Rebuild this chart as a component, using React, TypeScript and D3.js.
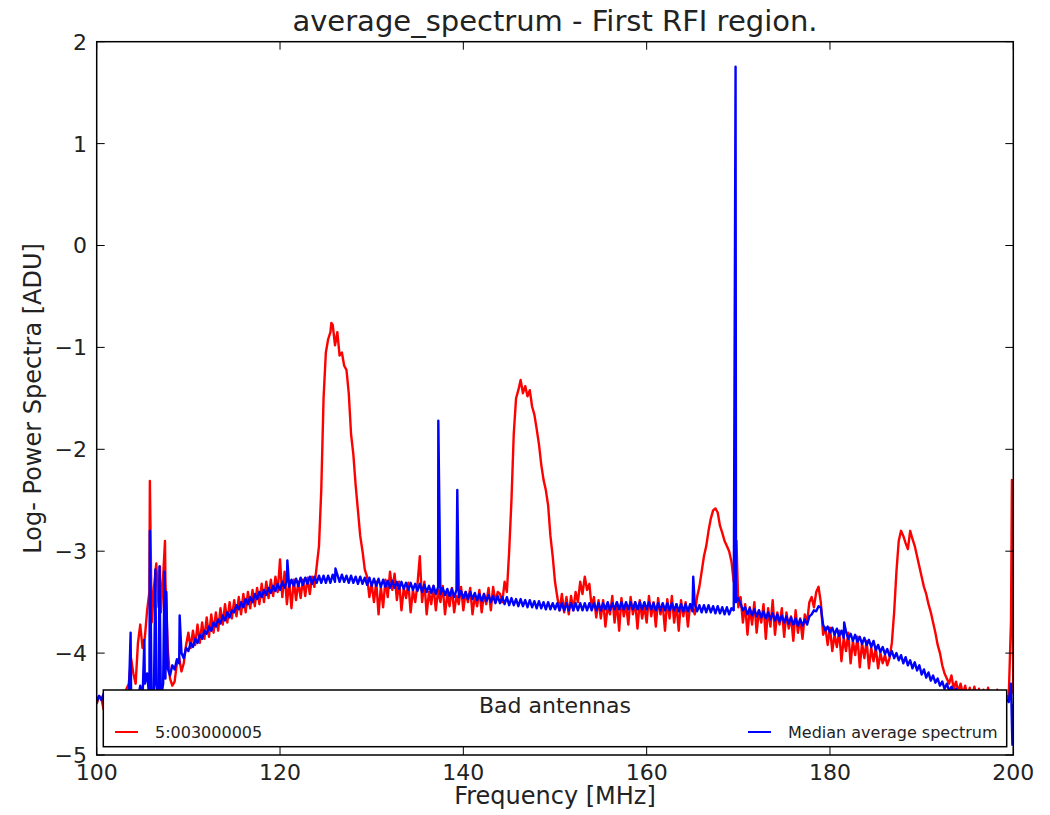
import React from "react";
import * as d3 from "d3";

// Frequency grid (MHz), 0.25 MHz step, 100..200
const freqGrid: number[] = d3.range(0, 401).map((i) => 100 + i * 0.25);

// Median average spectrum (blue), one reading per grid frequency (rows of 5 MHz)
const medianValues: number[] = [
  -4.48, -4.42, -4.46, -4.40, -4.47, -4.41, -4.45, -4.40, -4.46, -4.40, -4.44, -4.39, -4.45, -4.40, -4.44, -4.38, -4.50, -4.40, -4.45, -4.32,
  -4.45, -4.30, -4.20, -4.45, -4.50, -4.35, -4.30, -4.45, -4.45, -4.30, -4.25, -4.15, -4.22, -4.12, -4.16, -4.06, -4.10, -4.00, -4.05, -3.95,
  -3.98, -3.90, -3.94, -3.86, -3.90, -3.82, -3.86, -3.78, -3.81, -3.74, -3.78, -3.70, -3.74, -3.67, -3.71, -3.63, -3.68, -3.60, -3.65, -3.58,
  -3.60, -3.53, -3.57, -3.50, -3.55, -3.47, -3.52, -3.45, -3.50, -3.42, -3.47, -3.40, -3.45, -3.38, -3.43, -3.36, -3.41, -3.34, -3.39, -3.32,
  -3.38, -3.30, -3.36, -3.29, -3.35, -3.28, -3.34, -3.27, -3.34, -3.26, -3.33, -3.26, -3.32, -3.25, -3.32, -3.25, -3.31, -3.24, -3.31, -3.24,
  -3.31, -3.24, -3.31, -3.23, -3.30, -3.23, -3.30, -3.23, -3.30, -3.24, -3.31, -3.24, -3.31, -3.25, -3.32, -3.25, -3.32, -3.26, -3.33, -3.26,
  -3.34, -3.27, -3.34, -3.27, -3.35, -3.28, -3.35, -3.29, -3.36, -3.29, -3.36, -3.30, -3.37, -3.30, -3.37, -3.31, -3.38, -3.31, -3.38, -3.32,
  -3.39, -3.32, -3.40, -3.33, -3.40, -3.34, -3.41, -3.34, -3.42, -3.35, -3.42, -3.36, -3.43, -3.37, -3.44, -3.37, -3.45, -3.38, -3.45, -3.39,
  -3.46, -3.40, -3.47, -3.40, -3.47, -3.41, -3.48, -3.42, -3.49, -3.42, -3.49, -3.43, -3.50, -3.44, -3.51, -3.44, -3.51, -3.45, -3.52, -3.45,
  -3.53, -3.46, -3.53, -3.47, -3.54, -3.47, -3.54, -3.48, -3.55, -3.48, -3.55, -3.49, -3.56, -3.49, -3.56, -3.50, -3.57, -3.50, -3.57, -3.51,
  -3.57, -3.51, -3.58, -3.51, -3.58, -3.51, -3.58, -3.51, -3.58, -3.51, -3.58, -3.51, -3.58, -3.51, -3.58, -3.51, -3.58, -3.51, -3.58, -3.51,
  -3.58, -3.51, -3.57, -3.50, -3.58, -3.51, -3.57, -3.50, -3.57, -3.50, -3.57, -3.50, -3.57, -3.50, -3.57, -3.50, -3.57, -3.50, -3.57, -3.50,
  -3.57, -3.50, -3.57, -3.51, -3.58, -3.51, -3.58, -3.51, -3.58, -3.51, -3.58, -3.51, -3.58, -3.52, -3.59, -3.52, -3.59, -3.52, -3.59, -3.52,
  -3.59, -3.52, -3.59, -3.53, -3.60, -3.53, -3.60, -3.53, -3.60, -3.54, -3.61, -3.54, -3.61, -3.55, -3.62, -3.55, -3.62, -3.56, -3.58, -3.50,
  -3.46, -3.52, -3.58, -3.55, -3.62, -3.56, -3.63, -3.57, -3.64, -3.58, -3.65, -3.59, -3.66, -3.60, -3.67, -3.61, -3.68, -3.62, -3.69, -3.63,
  -3.70, -3.64, -3.71, -3.65, -3.72, -3.66, -3.73, -3.67, -3.73, -3.67, -3.72, -3.64, -3.62, -3.58, -3.59, -3.54, -3.55, -3.72, -3.78, -3.74,
  -3.80, -3.75, -3.82, -3.76, -3.83, -3.78, -3.85, -3.79, -3.86, -3.81, -3.88, -3.82, -3.89, -3.84, -3.91, -3.85, -3.92, -3.87, -3.94, -3.88,
  -3.97, -3.92, -3.99, -3.94, -4.01, -3.96, -4.03, -3.98, -4.05, -4.00, -4.07, -4.02, -4.10, -4.04, -4.12, -4.07, -4.15, -4.09, -4.17, -4.12,
  -4.21, -4.16, -4.24, -4.19, -4.27, -4.22, -4.29, -4.25, -4.32, -4.28, -4.35, -4.30, -4.37, -4.33, -4.39, -4.35, -4.41, -4.37, -4.43, -4.39,
  -4.45, -4.40, -4.46, -4.41, -4.47, -4.42, -4.48, -4.43, -4.48, -4.43, -4.49, -4.44, -4.49, -4.44, -4.49, -4.44, -4.50, -4.45, -4.48, -4.30,
  -4.50,
];

// Narrow RFI lines in the median spectrum: [MHz, value]
const medianSpikes: [number, number][] = [
  [103.7, -3.8], [105.2, -3.87], [105.8, -2.8], [106.4, -3.18], [106.85, -3.15],
  [107.4, -3.2], [107.6, -3.4], [109.05, -3.63], [120.8, -3.09], [126.05, -3.17],
  [137.27, -1.72], [139.34, -2.4], [165.08, -3.25], [169.7, 1.755],
  [181.55, -3.7], [199.9, -4.9],
];

// Bad antenna 5:003000005 (red), one reading per grid frequency (rows of 5 MHz)
const antennaValues: number[] = [
  -4.50, -4.42, -4.44, -4.55, -4.52, -4.40, -4.45, -4.50, -4.48, -4.40, -4.42, -4.48, -4.45, -4.35, -4.30, -4.05, -4.20, -4.30, -3.90, -3.72,
  -3.95, -3.85, -3.58, -3.40, -3.70, -3.35, -3.12, -3.55, -3.60, -3.25, -3.30, -3.95, -4.25, -4.32, -4.28, -4.10, -4.05, -4.18, -4.10, -3.92,
  -3.80, -3.95, -3.78, -3.92, -3.72, -3.90, -3.70, -3.86, -3.65, -3.84, -3.62, -3.80, -3.60, -3.78, -3.56, -3.72, -3.52, -3.70, -3.50, -3.66,
  -3.48, -3.64, -3.45, -3.62, -3.42, -3.60, -3.40, -3.56, -3.38, -3.54, -3.36, -3.52, -3.32, -3.50, -3.30, -3.46, -3.28, -3.44, -3.25, -3.40,
  -3.08, -3.45, -3.20, -3.52, -3.30, -3.56, -3.28, -3.48, -3.30, -3.46, -3.28, -3.44, -3.26, -3.42, -3.25, -3.35, -3.15, -2.95, -2.40, -1.50,
  -1.05, -0.92, -0.85, -0.78, -0.98, -0.85, -1.08, -1.05, -1.18, -1.22, -1.45, -1.85, -2.05, -2.35, -2.60, -2.85, -3.00, -3.18, -3.25, -3.45,
  -3.32, -3.50, -3.30, -3.62, -3.35, -3.55, -3.28, -3.45, -3.20, -3.38, -3.22, -3.48, -3.30, -3.58, -3.36, -3.46, -3.31, -3.60, -3.38, -3.50,
  -3.32, -3.05, -3.50, -3.30, -3.62, -3.40, -3.52, -3.34, -3.58, -3.38, -3.50, -3.34, -3.62, -3.42, -3.54, -3.36, -3.60, -3.44, -3.52, -3.35,
  -3.58, -3.40, -3.50, -3.36, -3.62, -3.44, -3.54, -3.38, -3.60, -3.42, -3.52, -3.36, -3.58, -3.35, -3.50, -3.40, -3.42, -3.50, -3.30, -3.40,
  -3.00, -2.50, -1.85, -1.50, -1.42, -1.32, -1.45, -1.38, -1.48, -1.42, -1.58, -1.66, -1.80, -1.95, -2.15, -2.30, -2.40, -2.55, -2.85, -3.05,
  -3.30, -3.45, -3.58, -3.42, -3.60, -3.45, -3.62, -3.44, -3.58, -3.40, -3.50, -3.30, -3.42, -3.25, -3.38, -3.32, -3.55, -3.45, -3.65, -3.48,
  -3.66, -3.48, -3.74, -3.54, -3.62, -3.44, -3.70, -3.50, -3.78, -3.46, -3.64, -3.52, -3.72, -3.45, -3.62, -3.50, -3.76, -3.48, -3.66, -3.54,
  -3.70, -3.44, -3.64, -3.50, -3.74, -3.46, -3.62, -3.52, -3.78, -3.47, -3.66, -3.44, -3.70, -3.52, -3.78, -3.48, -3.64, -3.50, -3.74, -3.52,
  -3.55, -3.62, -3.45, -3.35, -3.20, -3.05, -2.95, -2.80, -2.68, -2.60, -2.58, -2.62, -2.75, -2.82, -2.90, -2.95, -3.00, -3.10, -3.30, -3.00,
  -3.55, -3.45, -3.70, -3.52, -3.82, -3.55, -3.72, -3.50, -3.80, -3.58, -3.70, -3.52, -3.86, -3.56, -3.74, -3.48, -3.82, -3.60, -3.72, -3.56,
  -3.84, -3.60, -3.76, -3.64, -3.88, -3.58, -3.80, -3.66, -3.86, -3.62, -3.70, -3.50, -3.45, -3.55, -3.40, -3.35, -3.50, -3.82, -3.75, -3.92,
  -3.75, -3.98, -3.82, -3.94, -3.78, -4.08, -3.85, -3.98, -3.80, -4.10, -3.88, -4.02, -3.84, -4.14, -3.90, -4.05, -3.88, -4.15, -3.95, -4.08,
  -3.95, -4.15, -4.00, -4.10, -4.02, -4.12, -4.05, -3.90, -3.60, -3.20, -2.90, -2.80, -2.85, -2.92, -2.98, -2.80, -2.88, -2.95, -3.05, -3.15,
  -3.25, -3.35, -3.42, -3.52, -3.60, -3.70, -3.80, -3.92, -4.00, -4.12, -4.20, -4.25, -4.30, -4.22, -4.35, -4.28, -4.38, -4.30, -4.40, -4.32,
  -4.42, -4.34, -4.44, -4.33, -4.42, -4.35, -4.45, -4.36, -4.44, -4.34, -4.46, -4.38, -4.45, -4.36, -4.46, -4.40, -4.45, -4.42, -4.44, -3.68,
  -4.40,
];

// Extra narrow features of the red spectrum: [MHz, value]
const antennaSpikes: [number, number][] = [
  [105.8, -2.31], [106.9, -3.15], [107.45, -2.9], [125.6, -0.76], [169.8, -2.9], [199.85, -2.3],
];

const xTicks = [100, 120, 140, 160, 180, 200];
const yTicks = [-5, -4, -3, -2, -1, 0, 1, 2];

const TITLE = "average_spectrum - First RFI region.";
const X_LABEL = "Frequency [MHz]";
const Y_LABEL = "Log- Power Spectra [ADU]";
const LEGEND_TITLE = "Bad antennas";
const LEGEND_RED = "5:003000005";
const LEGEND_BLUE = "Median average spectrum";

const FONT = "DejaVu Sans, Liberation Sans, sans-serif";

function merge(values: number[], extra: [number, number][]): [number, number][] {
  const pts: [number, number][] = freqGrid.map((f, i) => [f, values[i]] as [number, number]);
  return pts.concat(extra).sort((a, b) => a[0] - b[0]);
}

export default function App() {
  const W = 1050;
  const H = 815;
  const left = 96.7;
  const right = 1013.3;
  const top = 41.7;
  const bottom = 755;

  const x = d3.scaleLinear().domain([100, 200]).range([left, right]);
  const y = d3.scaleLinear().domain([-5, 2]).range([bottom, top]);

  const line = d3
    .line<[number, number]>()
    .x((d) => x(d[0]))
    .y((d) => y(d[1]));

  const redPath = line(merge(antennaValues, antennaSpikes)) || "";
  const bluePath = line(merge(medianValues, medianSpikes)) || "";

  const fmt = (v: number) => (v < 0 ? "\u2212" + Math.abs(v) : String(v));
  const tickLen = 8;

  const legX = 103.3;
  const legY = 690;
  const legW = 1006.7 - 103.3;
  const legH = 56.7;

  return (
    <svg
      width={W}
      height={H}
      style={{ position: "absolute", left: 0, top: 0, background: "#fff" }}
      fontFamily={FONT}
    >
      <rect x={0} y={0} width={W} height={H} fill="#fff" />
      <defs>
        <clipPath id="plotClip">
          <rect x={left} y={top} width={right - left} height={bottom - top} />
        </clipPath>
      </defs>
      <g clipPath="url(#plotClip)">
        <path d={redPath} fill="none" stroke="#ff0000" strokeWidth={2.4} strokeLinejoin="round" />
        <path d={bluePath} fill="none" stroke="#0000ff" strokeWidth={2.4} strokeLinejoin="round" />
      </g>

      {/* ticks */}
      {xTicks.map((t) => (
        <g key={"xt" + t}>
          <line x1={x(t)} x2={x(t)} y1={bottom} y2={bottom - tickLen} stroke="#000" strokeWidth={1} />
          <line x1={x(t)} x2={x(t)} y1={top} y2={top + tickLen} stroke="#000" strokeWidth={1} />
          <text x={x(t)} y={780} fontSize={22} textAnchor="middle" fill="#222">
            {fmt(t)}
          </text>
        </g>
      ))}
      {yTicks.map((t) => (
        <g key={"yt" + t}>
          <line x1={left} x2={left + tickLen} y1={y(t)} y2={y(t)} stroke="#000" strokeWidth={1} />
          <line x1={right} x2={right - tickLen} y1={y(t)} y2={y(t)} stroke="#000" strokeWidth={1} />
          <text x={87} y={y(t)} dy="0.36em" fontSize={22} textAnchor="end" fill="#222">
            {fmt(t)}
          </text>
        </g>
      ))}

      {/* legend */}
      <rect x={legX} y={legY} width={legW} height={legH} fill="#fff" stroke="#000" strokeWidth={1.5} />
      <text x={legX + legW / 2} y={713} fontSize={22} textAnchor="middle" fill="#222">
        {LEGEND_TITLE}
      </text>
      <line x1={115} x2={138} y1={732} y2={732} stroke="#ff0000" strokeWidth={2} />
      <text x={155} y={737.5} fontSize={16} fill="#222">
        {LEGEND_RED}
      </text>
      <line x1={748} x2={771} y1={732} y2={732} stroke="#0000ff" strokeWidth={2} />
      <text x={788} y={737.5} fontSize={16} fill="#222">
        {LEGEND_BLUE}
      </text>

      {/* frame */}
      <rect x={left} y={top} width={right - left} height={bottom - top} fill="none" stroke="#000" strokeWidth={1.5} />

      {/* labels */}
      <text x={(left + right) / 2} y={31} fontSize={29} textAnchor="middle" fill="#222">
        {TITLE}
      </text>
      <text x={(left + right) / 2} y={804} fontSize={24} textAnchor="middle" fill="#222">
        {X_LABEL}
      </text>
      <text
        transform={`translate(41, ${(top + bottom) / 2}) rotate(-90)`}
        fontSize={24}
        textAnchor="middle"
        fill="#222"
      >
        {Y_LABEL}
      </text>
    </svg>
  );
}
